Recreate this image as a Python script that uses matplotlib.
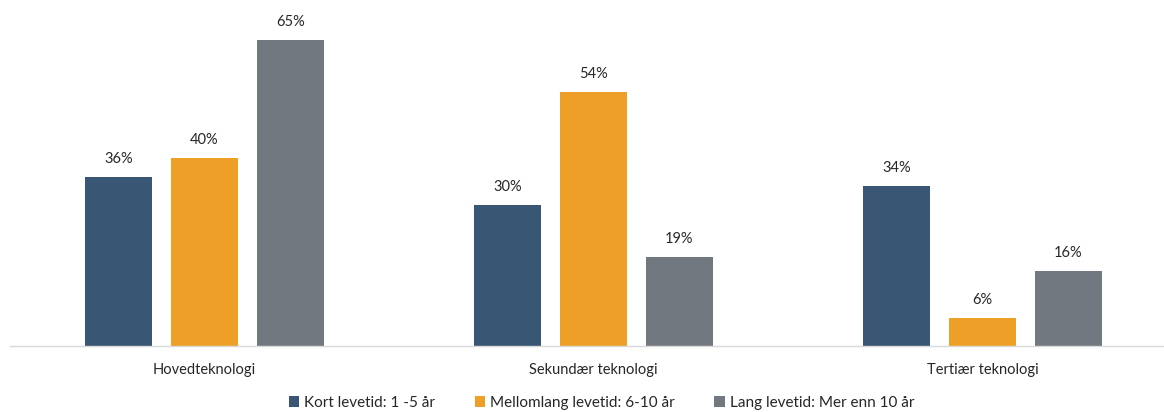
import matplotlib
matplotlib.use("Agg")
import matplotlib.pyplot as plt
import numpy as np

categories = ["Hovedteknologi", "Sekundær teknologi", "Tertiær teknologi"]
series_names = ["Kort levetid: 1 -5 år", "Mellomlang levetid: 6-10 år", "Lang levetid: Mer enn 10 år"]
kort = [36, 30, 34]
mellom = [40, 54, 6]
lang = [65, 19, 16]
colors = ["#3A5675", "#EE9F27", "#72787F"]

plt.rcParams['font.family'] = ['Lato', 'DejaVu Sans']

W, H = 1164, 412
fig = plt.figure(figsize=(W/100, H/100), dpi=100)
left_px, right_px = 10, 1164
base_px = 346
ax = fig.add_axes([left_px/W, (H-base_px)/H, (right_px-left_px)/W, base_px/H])

x = np.arange(len(categories))
bw = 0.172
off = 0.221
for i, (vals, name, c) in enumerate(zip([kort, mellom, lang], series_names, colors)):
    pos = x + (i-1)*off
    bars = ax.bar(pos, vals, width=bw, color=c, label=name)
    for p, v in zip(pos, vals):
        ax.text(p, v + 2.3, f"{v}%", ha="center", va="bottom", fontsize=10.5, color="#262626")

ppd = 389.0
ax.set_xlim(-0.5, -0.5 + (right_px-left_px)/ppd)
ax.set_ylim(0, base_px/4.708)
for s in ["top", "right", "left"]:
    ax.spines[s].set_visible(False)
ax.spines["bottom"].set_color("#D9D9D9")
ax.spines["bottom"].set_linewidth(1)
ax.set_yticks([])
ax.set_xticks(x)
ax.set_xticklabels(categories, fontsize=10.5, color="#262626")
ax.tick_params(axis="x", length=0, pad=12)

leg = fig.legend(loc="center", bbox_to_anchor=(601.5/W, 1 - 403/H), ncol=3, frameon=False,
                 fontsize=11, handlelength=0.7, handleheight=0.7, handletextpad=0.3,
                 columnspacing=2.6)
for t in leg.get_texts():
    t.set_color("#262626")

fig.savefig("out.png", dpi=100)
